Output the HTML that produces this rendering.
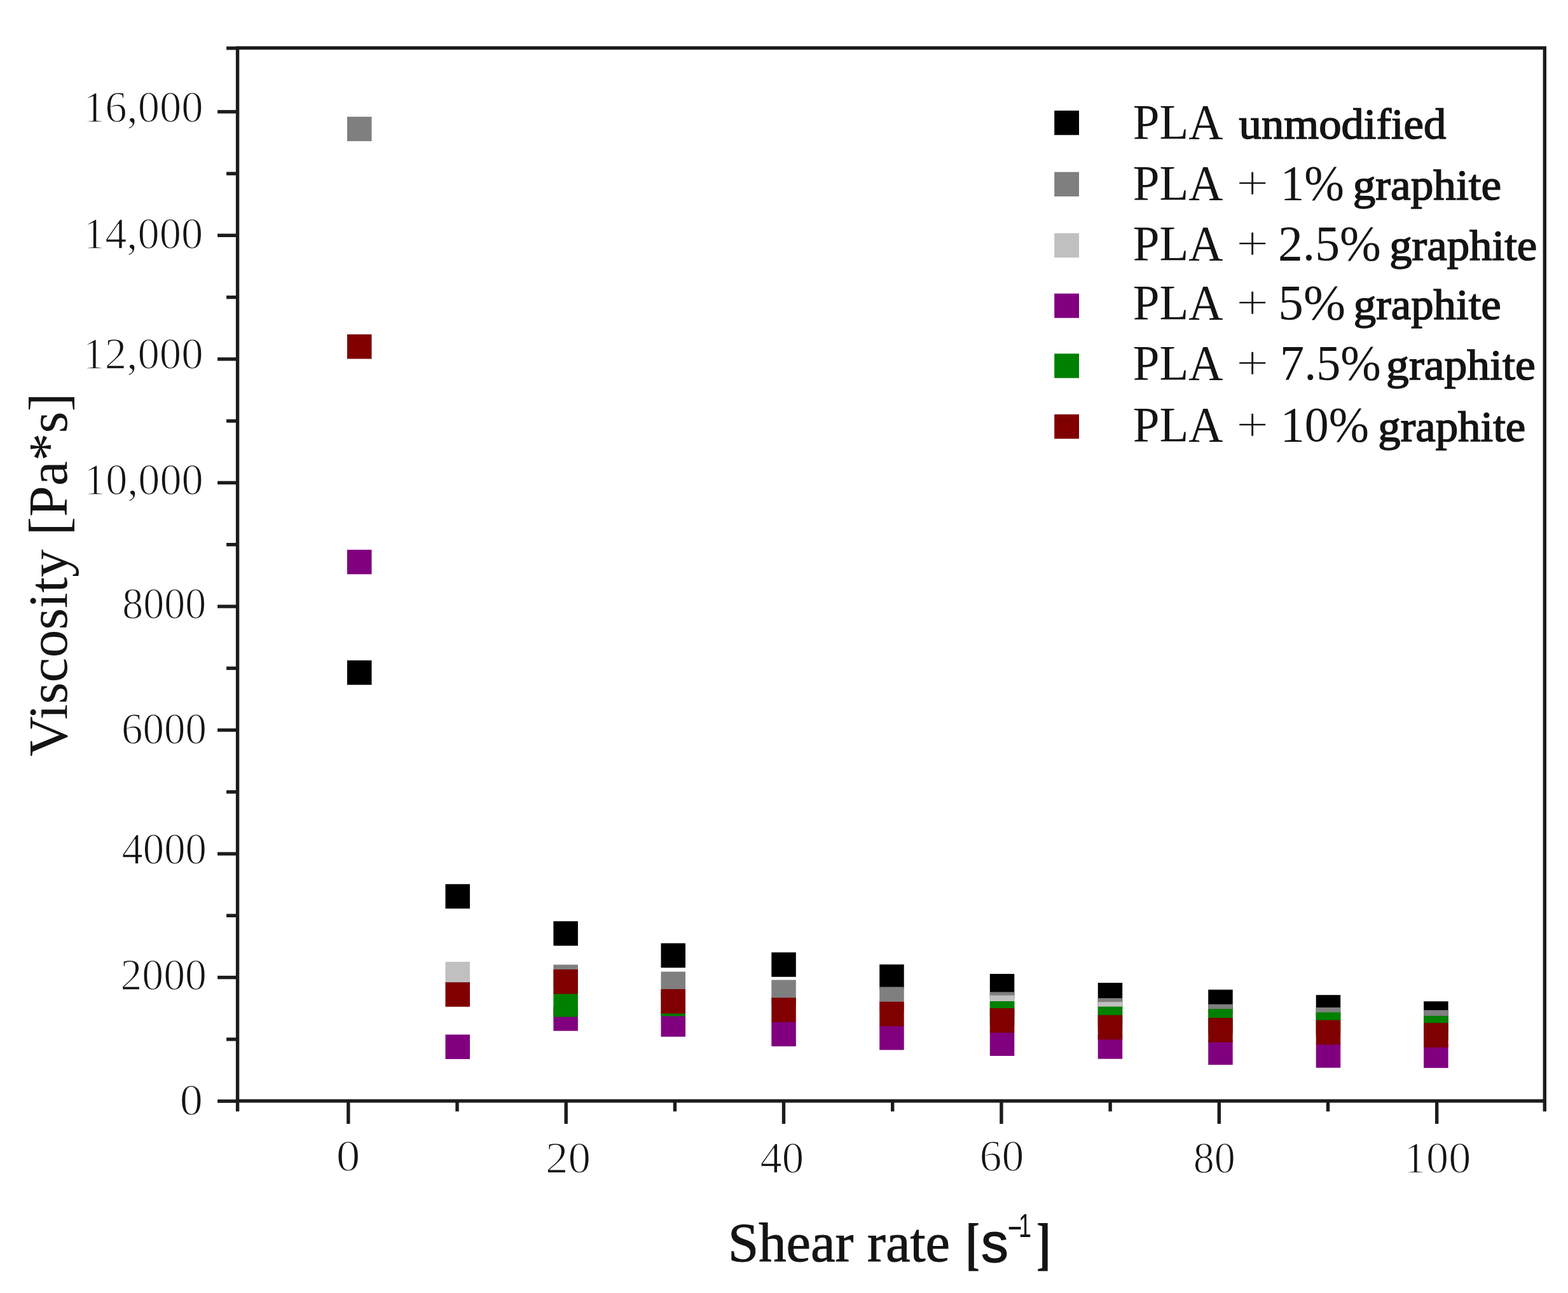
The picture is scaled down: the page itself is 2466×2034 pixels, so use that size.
<!DOCTYPE html><html><head><meta charset="utf-8"><title>Viscosity vs shear rate</title><style>html,body{margin:0;padding:0;background:#fff;width:2466px;height:2034px;overflow:hidden}svg{display:block}</style></head><body>
<svg width="2466" height="2034" viewBox="0 0 2466 2034">
<rect width="2466" height="2034" fill="#fff"/>
<g>
<rect x="546.0" y="1038.8" width="38.5" height="38.5" fill="#000000"/>
<rect x="700.5" y="1390.8" width="38.5" height="38.5" fill="#000000"/>
<rect x="870.4" y="1449.2" width="38.5" height="38.5" fill="#000000"/>
<rect x="1039.5" y="1483.8" width="38.5" height="38.5" fill="#000000"/>
<rect x="1213.3" y="1498.2" width="38.5" height="38.5" fill="#000000"/>
<rect x="1383.2" y="1517.2" width="38.5" height="38.5" fill="#000000"/>
<rect x="1556.8" y="1532.0" width="38.5" height="38.5" fill="#000000"/>
<rect x="1726.7" y="1546.0" width="38.5" height="38.5" fill="#000000"/>
<rect x="1900.2" y="1556.8" width="38.5" height="38.5" fill="#000000"/>
<rect x="2069.7" y="1565.2" width="38.5" height="38.5" fill="#000000"/>
<rect x="2239.1" y="1575.2" width="38.5" height="38.5" fill="#000000"/>
<rect x="546.0" y="183.6" width="38.5" height="38.5" fill="#7f7f7f"/>
<rect x="870.4" y="1517.5" width="38.5" height="38.5" fill="#7f7f7f"/>
<rect x="1039.5" y="1528.5" width="38.5" height="38.5" fill="#7f7f7f"/>
<rect x="1213.3" y="1541.5" width="38.5" height="38.5" fill="#7f7f7f"/>
<rect x="1383.2" y="1552.5" width="38.5" height="38.5" fill="#7f7f7f"/>
<rect x="1556.8" y="1560.5" width="38.5" height="38.5" fill="#7f7f7f"/>
<rect x="1726.7" y="1570.2" width="38.5" height="38.5" fill="#7f7f7f"/>
<rect x="1900.2" y="1579.8" width="38.5" height="38.5" fill="#7f7f7f"/>
<rect x="2069.7" y="1584.8" width="38.5" height="38.5" fill="#7f7f7f"/>
<rect x="2239.1" y="1589.0" width="38.5" height="38.5" fill="#7f7f7f"/>
<rect x="700.5" y="1513.0" width="38.5" height="38.5" fill="#c0c0c0"/>
<rect x="1556.8" y="1565.8" width="38.5" height="38.5" fill="#c0c0c0"/>
<rect x="1726.7" y="1576.2" width="38.5" height="38.5" fill="#c0c0c0"/>
<rect x="546.0" y="864.8" width="38.5" height="38.5" fill="#800080"/>
<rect x="700.5" y="1627.5" width="38.5" height="38.5" fill="#800080"/>
<rect x="870.4" y="1583.2" width="38.5" height="38.5" fill="#800080"/>
<rect x="1039.5" y="1592.3" width="38.5" height="38.5" fill="#800080"/>
<rect x="1213.3" y="1607.5" width="38.5" height="38.5" fill="#800080"/>
<rect x="1383.2" y="1613.2" width="38.5" height="38.5" fill="#800080"/>
<rect x="1556.8" y="1622.5" width="38.5" height="38.5" fill="#800080"/>
<rect x="1726.7" y="1627.2" width="38.5" height="38.5" fill="#800080"/>
<rect x="1900.2" y="1636.5" width="38.5" height="38.5" fill="#800080"/>
<rect x="2069.7" y="1641.2" width="38.5" height="38.5" fill="#800080"/>
<rect x="2239.1" y="1641.5" width="38.5" height="38.5" fill="#800080"/>
<rect x="870.4" y="1561.2" width="38.5" height="38.5" fill="#008000"/>
<rect x="1039.5" y="1560.0" width="38.5" height="38.5" fill="#008000"/>
<rect x="1556.8" y="1575.0" width="38.5" height="38.5" fill="#008000"/>
<rect x="1726.7" y="1583.5" width="38.5" height="38.5" fill="#008000"/>
<rect x="1900.2" y="1587.2" width="38.5" height="38.5" fill="#008000"/>
<rect x="2069.7" y="1592.5" width="38.5" height="38.5" fill="#008000"/>
<rect x="2239.1" y="1598.0" width="38.5" height="38.5" fill="#008000"/>
<rect x="546.0" y="526.0" width="38.5" height="38.5" fill="#800000"/>
<rect x="700.5" y="1545.2" width="38.5" height="38.5" fill="#800000"/>
<rect x="870.4" y="1525.0" width="38.5" height="38.5" fill="#800000"/>
<rect x="1039.5" y="1556.0" width="38.5" height="38.5" fill="#800000"/>
<rect x="1213.3" y="1569.5" width="38.5" height="38.5" fill="#800000"/>
<rect x="1383.2" y="1575.8" width="38.5" height="38.5" fill="#800000"/>
<rect x="1556.8" y="1586.0" width="38.5" height="38.5" fill="#800000"/>
<rect x="1726.7" y="1596.8" width="38.5" height="38.5" fill="#800000"/>
<rect x="1900.2" y="1601.2" width="38.5" height="38.5" fill="#800000"/>
<rect x="2069.7" y="1604.8" width="38.5" height="38.5" fill="#800000"/>
<rect x="2239.1" y="1609.2" width="38.5" height="38.5" fill="#800000"/>
</g>
<g stroke="#1c1c1c" stroke-width="5.4" fill="none">
<rect x="373.6" y="75.4" width="2055.7" height="1656.5"/>
<line x1="342.1" y1="1732.2" x2="373.6" y2="1732.2"/>
<line x1="356.1" y1="1634.9" x2="373.6" y2="1634.9"/>
<line x1="342.1" y1="1537.6" x2="373.6" y2="1537.6"/>
<line x1="356.1" y1="1440.3" x2="373.6" y2="1440.3"/>
<line x1="342.1" y1="1343.1" x2="373.6" y2="1343.1"/>
<line x1="356.1" y1="1245.8" x2="373.6" y2="1245.8"/>
<line x1="342.1" y1="1148.5" x2="373.6" y2="1148.5"/>
<line x1="356.1" y1="1051.2" x2="373.6" y2="1051.2"/>
<line x1="342.1" y1="954.0" x2="373.6" y2="954.0"/>
<line x1="356.1" y1="856.7" x2="373.6" y2="856.7"/>
<line x1="342.1" y1="759.4" x2="373.6" y2="759.4"/>
<line x1="356.1" y1="662.2" x2="373.6" y2="662.2"/>
<line x1="342.1" y1="564.9" x2="373.6" y2="564.9"/>
<line x1="356.1" y1="467.6" x2="373.6" y2="467.6"/>
<line x1="342.1" y1="370.3" x2="373.6" y2="370.3"/>
<line x1="356.1" y1="273.1" x2="373.6" y2="273.1"/>
<line x1="342.1" y1="175.8" x2="373.6" y2="175.8"/>
<line x1="356.1" y1="75.8" x2="373.6" y2="75.8"/>
<line x1="373.6" y1="1731.9" x2="373.6" y2="1748.4"/>
<line x1="547.8" y1="1731.9" x2="547.8" y2="1767.9"/>
<line x1="719.0" y1="1731.9" x2="719.0" y2="1748.4"/>
<line x1="890.2" y1="1731.9" x2="890.2" y2="1767.9"/>
<line x1="1061.4" y1="1731.9" x2="1061.4" y2="1748.4"/>
<line x1="1232.5" y1="1731.9" x2="1232.5" y2="1767.9"/>
<line x1="1403.7" y1="1731.9" x2="1403.7" y2="1748.4"/>
<line x1="1574.9" y1="1731.9" x2="1574.9" y2="1767.9"/>
<line x1="1746.1" y1="1731.9" x2="1746.1" y2="1748.4"/>
<line x1="1917.3" y1="1731.9" x2="1917.3" y2="1767.9"/>
<line x1="2088.5" y1="1731.9" x2="2088.5" y2="1748.4"/>
<line x1="2259.7" y1="1731.9" x2="2259.7" y2="1767.9"/>
<line x1="2429.3" y1="1731.9" x2="2429.3" y2="1748.4"/>
</g>
<g fill="#141414" style="white-space:pre">
<text x="130.9" y="191.9" font-family="'Liberation Serif', serif" font-size="69" stroke="#ffffff" stroke-width="1.4" textLength="188.8" lengthAdjust="spacingAndGlyphs">16,000</text>
<text x="130.9" y="391.1" font-family="'Liberation Serif', serif" font-size="69" stroke="#ffffff" stroke-width="1.4" textLength="188.3" lengthAdjust="spacingAndGlyphs">14,000</text>
<text x="130.3" y="580.0" font-family="'Liberation Serif', serif" font-size="69" stroke="#ffffff" stroke-width="1.4" textLength="189.4" lengthAdjust="spacingAndGlyphs">12,000</text>
<text x="132.0" y="778.0" font-family="'Liberation Serif', serif" font-size="69" stroke="#ffffff" stroke-width="1.4" textLength="187.7" lengthAdjust="spacingAndGlyphs">10,000</text>
<text x="192.3" y="973.0" font-family="'Liberation Serif', serif" font-size="69" stroke="#ffffff" stroke-width="1.4" textLength="131.8" lengthAdjust="spacingAndGlyphs">8000</text>
<text x="191.1" y="1169.8" font-family="'Liberation Serif', serif" font-size="69" stroke="#ffffff" stroke-width="1.4" textLength="133.8" lengthAdjust="spacingAndGlyphs">6000</text>
<text x="191.4" y="1359.4" font-family="'Liberation Serif', serif" font-size="69" stroke="#ffffff" stroke-width="1.4" textLength="133.5" lengthAdjust="spacingAndGlyphs">4000</text>
<text x="189.4" y="1557.1" font-family="'Liberation Serif', serif" font-size="69" stroke="#ffffff" stroke-width="1.4" textLength="135.6" lengthAdjust="spacingAndGlyphs">2000</text>
<text x="282.7" y="1754.0" font-family="'Liberation Serif', serif" font-size="69" stroke="#ffffff" stroke-width="1.4" textLength="36.2" lengthAdjust="spacingAndGlyphs">0</text>
<text x="528.7" y="1842.0" font-family="'Liberation Serif', serif" font-size="69" stroke="#ffffff" stroke-width="1.4" textLength="37.7" lengthAdjust="spacingAndGlyphs">0</text>
<text x="858.1" y="1844.8" font-family="'Liberation Serif', serif" font-size="69" stroke="#ffffff" stroke-width="1.4" textLength="71.0" lengthAdjust="spacingAndGlyphs">20</text>
<text x="1195.4" y="1844.8" font-family="'Liberation Serif', serif" font-size="69" stroke="#ffffff" stroke-width="1.4" textLength="68.9" lengthAdjust="spacingAndGlyphs">40</text>
<text x="1540.5" y="1841.5" font-family="'Liberation Serif', serif" font-size="69" stroke="#ffffff" stroke-width="1.4" textLength="69.8" lengthAdjust="spacingAndGlyphs">60</text>
<text x="1876.8" y="1844.6" font-family="'Liberation Serif', serif" font-size="69" stroke="#ffffff" stroke-width="1.4" textLength="66.0" lengthAdjust="spacingAndGlyphs">80</text>
<text x="2207.8" y="1845.0" font-family="'Liberation Serif', serif" font-size="69" stroke="#ffffff" stroke-width="1.4" textLength="105.5" lengthAdjust="spacingAndGlyphs">100</text>
<text x="1145.0" y="1984.0" font-family="'Liberation Serif', serif" font-size="87" stroke="#141414" stroke-width="1" textLength="349.0" lengthAdjust="spacingAndGlyphs">Shear rate</text>
<text x="1518.3" y="1986.9" font-family="'Liberation Serif', serif" font-size="90" font-weight="bold" textLength="22.9" lengthAdjust="spacingAndGlyphs">[</text>
<text x="1543.1" y="1985.0" font-family="'Liberation Sans', sans-serif" font-size="88" stroke="#141414" stroke-width="1.4" textLength="42.8" lengthAdjust="spacingAndGlyphs">s</text>
<text x="1583.2" y="1946.0" font-family="'Liberation Sans', sans-serif" font-size="52" textLength="25.7" lengthAdjust="spacingAndGlyphs">-</text>
<text x="1602.0" y="1946.0" font-family="'Liberation Sans', sans-serif" font-size="52" textLength="20.0" lengthAdjust="spacingAndGlyphs">1</text>
<text x="1629.7" y="1986.9" font-family="'Liberation Serif', serif" font-size="90" font-weight="bold" textLength="23.1" lengthAdjust="spacingAndGlyphs">]</text>
<text x="1781.8" y="217.6" font-family="'Liberation Serif', serif" font-size="78" textLength="141.6" lengthAdjust="spacingAndGlyphs">PLA</text>
<text x="1948.6" y="217.6" font-family="'Liberation Serif', serif" font-size="67" stroke="#141414" stroke-width="1.6" textLength="325.7" lengthAdjust="spacingAndGlyphs">unmodified</text>
<text x="1781.8" y="314.2" font-family="'Liberation Serif', serif" font-size="78" textLength="141.6" lengthAdjust="spacingAndGlyphs">PLA</text>
<text x="1943.8" y="314.2" font-family="'Liberation Serif', serif" font-size="78" stroke="#ffffff" stroke-width="1.4" textLength="51.8" lengthAdjust="spacingAndGlyphs">+</text>
<text x="2013.7" y="314.2" font-family="'Liberation Serif', serif" font-size="78" textLength="100.2" lengthAdjust="spacingAndGlyphs">1%</text>
<text x="2127.7" y="314.2" font-family="'Liberation Serif', serif" font-size="67" stroke="#141414" stroke-width="1.6" textLength="233.5" lengthAdjust="spacingAndGlyphs">graphite</text>
<text x="1781.8" y="409.3" font-family="'Liberation Serif', serif" font-size="78" textLength="141.6" lengthAdjust="spacingAndGlyphs">PLA</text>
<text x="1943.8" y="409.3" font-family="'Liberation Serif', serif" font-size="78" stroke="#ffffff" stroke-width="1.4" textLength="51.8" lengthAdjust="spacingAndGlyphs">+</text>
<text x="2009.9" y="409.3" font-family="'Liberation Serif', serif" font-size="78" textLength="162.0" lengthAdjust="spacingAndGlyphs">2.5%</text>
<text x="2185.2" y="409.3" font-family="'Liberation Serif', serif" font-size="67" stroke="#141414" stroke-width="1.6" textLength="232.1" lengthAdjust="spacingAndGlyphs">graphite</text>
<text x="1781.8" y="501.8" font-family="'Liberation Serif', serif" font-size="78" textLength="141.6" lengthAdjust="spacingAndGlyphs">PLA</text>
<text x="1943.8" y="501.8" font-family="'Liberation Serif', serif" font-size="78" stroke="#ffffff" stroke-width="1.4" textLength="51.8" lengthAdjust="spacingAndGlyphs">+</text>
<text x="2010.3" y="501.8" font-family="'Liberation Serif', serif" font-size="78" textLength="105.7" lengthAdjust="spacingAndGlyphs">5%</text>
<text x="2128.8" y="501.8" font-family="'Liberation Serif', serif" font-size="67" stroke="#141414" stroke-width="1.6" textLength="232.0" lengthAdjust="spacingAndGlyphs">graphite</text>
<text x="1781.8" y="597.0" font-family="'Liberation Serif', serif" font-size="78" textLength="141.6" lengthAdjust="spacingAndGlyphs">PLA</text>
<text x="1943.8" y="597.0" font-family="'Liberation Serif', serif" font-size="78" stroke="#ffffff" stroke-width="1.4" textLength="51.8" lengthAdjust="spacingAndGlyphs">+</text>
<text x="2013.1" y="597.0" font-family="'Liberation Serif', serif" font-size="78" textLength="158.7" lengthAdjust="spacingAndGlyphs">7.5%</text>
<text x="2180.1" y="597.0" font-family="'Liberation Serif', serif" font-size="67" stroke="#141414" stroke-width="1.6" textLength="234.6" lengthAdjust="spacingAndGlyphs">graphite</text>
<text x="1781.8" y="694.4" font-family="'Liberation Serif', serif" font-size="78" textLength="141.6" lengthAdjust="spacingAndGlyphs">PLA</text>
<text x="1943.8" y="694.4" font-family="'Liberation Serif', serif" font-size="78" stroke="#ffffff" stroke-width="1.4" textLength="51.8" lengthAdjust="spacingAndGlyphs">+</text>
<text x="2013.8" y="694.4" font-family="'Liberation Serif', serif" font-size="78" textLength="139.2" lengthAdjust="spacingAndGlyphs">10%</text>
<text x="2167.3" y="694.4" font-family="'Liberation Serif', serif" font-size="67" stroke="#141414" stroke-width="1.6" textLength="232.0" lengthAdjust="spacingAndGlyphs">graphite</text>
<text transform="translate(105.3,1190.0) rotate(-90)" x="0" y="0" font-family="'Liberation Serif', serif" font-size="87" textLength="571.8" lengthAdjust="spacingAndGlyphs">Viscosity [Pa*s]</text>
</g>
<rect x="1658.2" y="174.0" width="38.8" height="38.4" fill="#000000"/>
<rect x="1658.2" y="270.6" width="38.8" height="38.4" fill="#7f7f7f"/>
<rect x="1658.2" y="366.8" width="38.8" height="38.4" fill="#c0c0c0"/>
<rect x="1658.2" y="461.8" width="38.8" height="38.4" fill="#800080"/>
<rect x="1658.2" y="556.3" width="38.8" height="38.4" fill="#008000"/>
<rect x="1658.2" y="651.8" width="38.8" height="38.4" fill="#800000"/>
</svg></body></html>
